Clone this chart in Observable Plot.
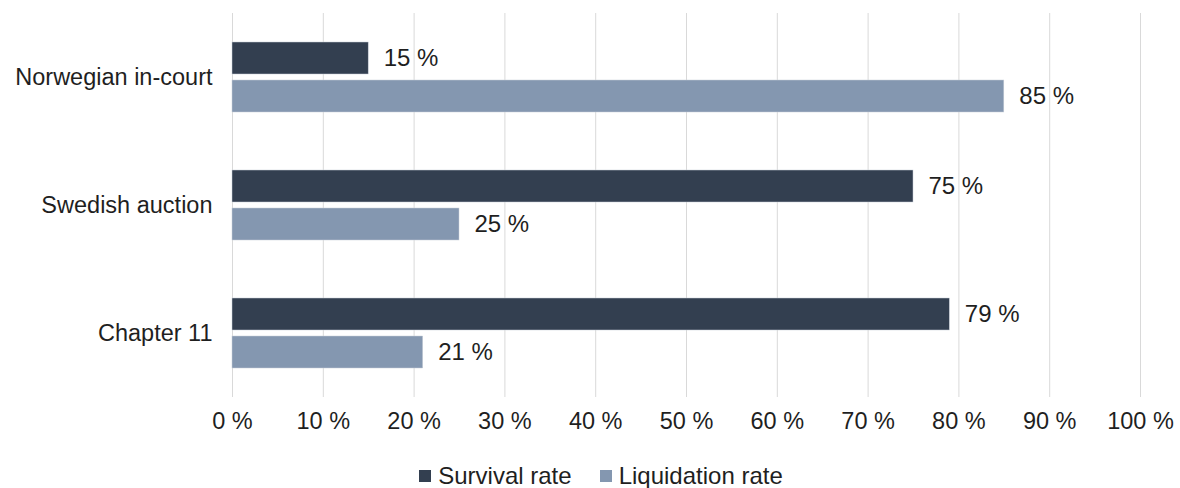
<!DOCTYPE html>
<html>
<head>
<meta charset="utf-8">
<script src="https://cdn.jsdelivr.net/npm/d3@7"></script>
<script src="https://cdn.jsdelivr.net/npm/@observablehq/plot@0.6"></script>
<style>
  html, body { margin: 0; padding: 0; background: #fff; }
  body { width: 1180px; height: 488px; overflow: hidden; font-family: "Liberation Sans", Arial, sans-serif; }
  #legend { display: flex; justify-content: center; align-items: center; gap: 28px; font-size: 24px; color: #1f1f1f; margin-top: 12px; padding-left: 22px; }
  .item { display: flex; align-items: center; gap: 7px; }
  .sw { width: 12px; height: 12px; display: inline-block; }
</style>
</head>
<body>
<div id="chart"></div>
<div id="legend"></div>
<script>
const categories = ["Norwegian in-court", "Swedish auction", "Chapter 11"];
const seriesNames = ["Survival rate", "Liquidation rate"];
const survival = [15, 75, 79];
const liquidation = [85, 25, 21];
const xTicks = [0, 10, 20, 30, 40, 50, 60, 70, 80, 90, 100];
const colors = ["#333F50", "#8497B0"];

const rows = [];
categories.forEach((c, i) => {
  rows.push({category: c, series: seriesNames[0], value: survival[i]});
  rows.push({category: c, series: seriesNames[1], value: liquidation[i]});
});

const chart = Plot.plot({
  width: 1180,
  height: 450,
  marginTop: 13,
  marginBottom: 53,
  marginLeft: 232,
  marginRight: 40,
  style: {fontFamily: "Liberation Sans, Arial, sans-serif", fontSize: "23.5px", color: "#1f1f1f", background: "#fff"},
  x: {domain: [0, 100], ticks: xTicks, tickFormat: d => d + " %", tickSize: 0, tickPadding: 15, label: null, grid: false},
  y: {domain: seriesNames, axis: null, paddingInner: 0.158, paddingOuter: 0.763},
  fy: {domain: categories, padding: 0, axis: "left", tickSize: 0, tickPadding: 20, label: null},
  color: {domain: seriesNames, range: colors},
  marks: [
    Plot.gridX(xTicks, {stroke: "#d9d9d9", strokeOpacity: 1, strokeWidth: 1}),
    Plot.barX(rows, {x: "value", y: "series", fy: "category", fill: "series", stroke: "#c8ced8", strokeWidth: 0.5}),
    Plot.text(rows, {x: "value", y: "series", fy: "category", text: d => d.value + " %", textAnchor: "start", dx: 15, fill: "#1f1f1f", fontSize: 24})
  ]
});
document.getElementById("chart").appendChild(chart);

const legend = document.getElementById("legend");
seriesNames.forEach((s, i) => {
  const item = document.createElement("div");
  item.className = "item";
  const sw = document.createElement("span");
  sw.className = "sw";
  sw.style.background = colors[i];
  const t = document.createElement("span");
  t.textContent = s;
  item.appendChild(sw);
  item.appendChild(t);
  legend.appendChild(item);
});
</script>
</body>
</html>
